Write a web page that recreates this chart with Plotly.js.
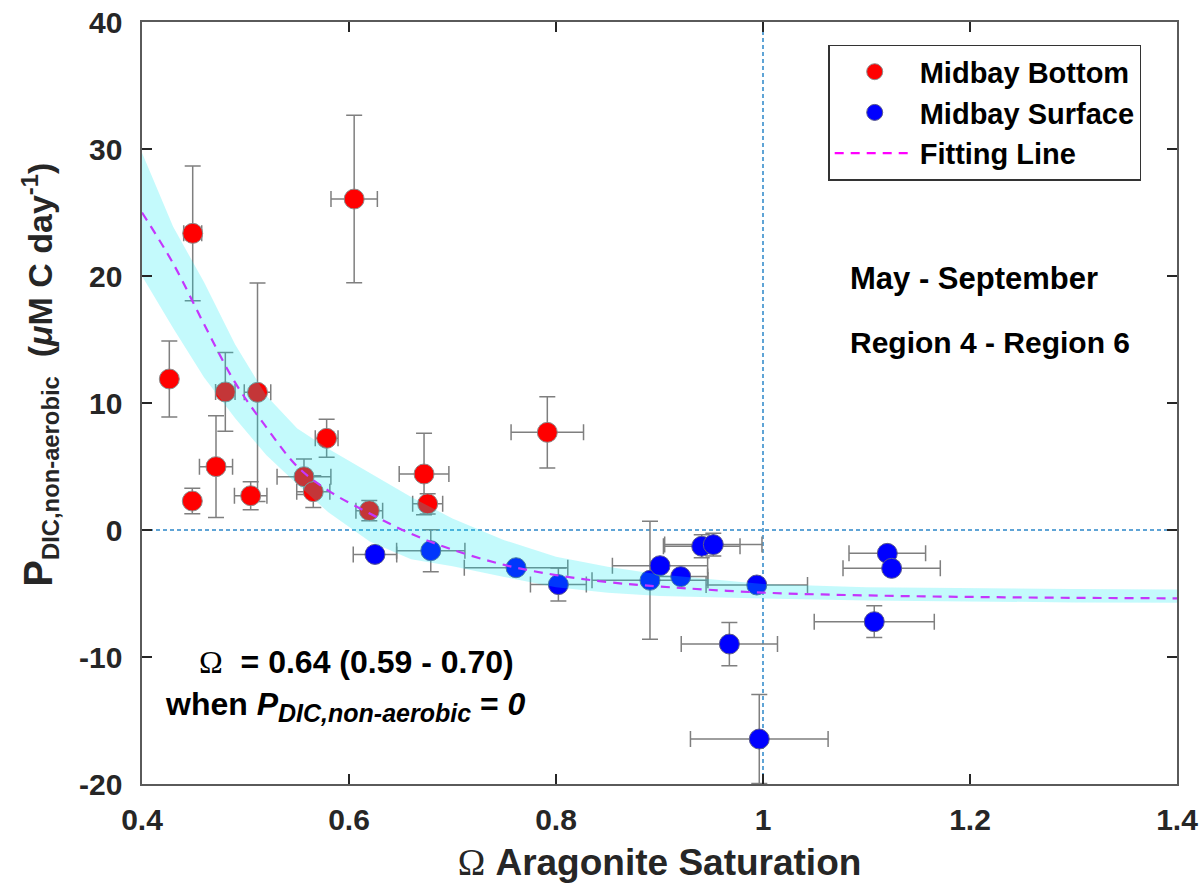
<!DOCTYPE html>
<html>
<head>
<meta charset="utf-8">
<script src="https://cdn.plot.ly/plotly-3.0.1.min.js"></script>
<style>html,body{margin:0;padding:0;background:#fff;}#chart{width:1203px;height:883px;}</style>
</head>
<body>
<div id="chart"></div>
<script>
// Midbay Bottom (red)
const bottomX   = [0.449, 0.605, 0.4264, 0.4805, 0.5116, 0.4486, 0.4715, 0.505, 0.5784, 0.5565, 0.5655, 0.6196, 0.6725, 0.676, 0.7916];
const bottomY   = [23.36, 26.06, 11.89, 10.87, 10.84, 2.28, 4.99, 2.7, 7.22, 4.2, 3.02, 1.52, 4.41, 2.06, 7.69];
const bottomErrY = [5.3, 6.6, 3.0, 3.1, 8.6, 1.0, 4.0, 1.1, 1.5, 1.4, 1.25, 0.8, 3.2, 0.8, 2.8];
const bottomErrX = [0.0087, 0.0224, 0.005, 0.0094, 0.0128, 0.005, 0.016, 0.0157, 0.011, 0.026, 0.016, 0.0129, 0.024, 0.0145, 0.035];

// Midbay Surface (blue)
const surfaceX   = [0.6251, 0.679, 0.7614, 0.8023, 0.8908, 0.9005, 0.9205, 0.9408, 0.952, 0.994, 0.9675, 0.9964, 1.1201, 1.1243, 1.1075];
const surfaceY   = [-1.92, -1.63, -2.97, -4.3, -3.96, -2.81, -3.67, -1.28, -1.15, -4.33, -8.98, -16.46, -1.84, -3.02, -7.22];
const surfaceErrY = [0.3, 1.65, 0.3, 1.3, 4.65, 0.3, 0.3, 0.9, 0.9, 0.3, 1.7, 3.5, 0.3, 0.3, 1.25];
const surfaceErrX = [0.021, 0.033, 0.05, 0.027, 0.056, 0.046, 0.026, 0.037, 0.047, 0.049, 0.0465, 0.0665, 0.037, 0.047, 0.058];

// Fitting line and its confidence band
const fitX     = [0.40, 0.43, 0.46, 0.49, 0.52, 0.55, 0.58, 0.62, 0.66, 0.70, 0.75, 0.80, 0.85, 0.90, 1.00, 1.10, 1.20, 1.30, 1.40];
const fitY     = [25.0, 21.0, 16.2, 11.6, 8.1, 5.0, 3.1, 1.3, -0.3, -1.55, -2.75, -3.55, -4.1, -4.45, -4.93, -5.15, -5.27, -5.34, -5.38];
const bandUpper = [29.7, 23.9, 19.5, 14.6, 10.6, 8.0, 6.4, 4.5, 2.6, 0.9, -0.8, -2.1, -2.9, -3.5, -4.25, -4.5, -4.6, -4.65, -4.68];
const bandLower = [20.0, 15.9, 12.0, 8.8, 5.9, 3.6, 1.4, -0.9, -2.3, -2.85, -3.7, -4.5, -4.95, -5.2, -5.4, -5.55, -5.65, -5.7, -5.72];

// Axis ticks
const xTicks = [0.4, 0.6, 0.8, 1.0, 1.2, 1.4];
const xTickText = ['0.4', '0.6', '0.8', '1', '1.2', '1.4'];
const yTicks = [-20, -10, 0, 10, 20, 30, 40];
const yTickText = ['-20', '-10', '0', '10', '20', '30', '40'];

const errStyle = {color: '#7f7f7f', thickness: 1.5, width: 8};
const FONT = 'Liberation Sans, Arial, sans-serif';

const traces = [
  {
    type: 'scatter', mode: 'markers', name: 'Midbay Bottom',
    x: bottomX, y: bottomY,
    error_y: Object.assign({type: 'data', array: bottomErrY, visible: true}, errStyle),
    error_x: Object.assign({type: 'data', array: bottomErrX, visible: true}, errStyle),
    marker: {color: '#ff0000', size: 20, line: {color: '#8c8c8c', width: 1}},
    legendgroup: 'a'
  },
  {
    type: 'scatter', mode: 'markers', name: 'Midbay Surface',
    x: surfaceX, y: surfaceY,
    error_y: Object.assign({type: 'data', array: surfaceErrY, visible: true}, errStyle),
    error_x: Object.assign({type: 'data', array: surfaceErrX, visible: true}, errStyle),
    marker: {color: '#0000ff', size: 20, line: {color: '#5a5a8c', width: 1}},
    legendgroup: 'b'
  },
  {
    type: 'scatter', mode: 'lines', name: 'Fitting Line',
    x: fitX, y: fitY, line: {color: '#ff00ff', width: 2.2, dash: '9px,7px', shape: 'spline'},
    legendgroup: 'c'
  },
  {
    type: 'scatter', mode: 'lines', showlegend: false, hoverinfo: 'skip',
    x: fitX.concat(fitX.slice().reverse()),
    y: bandUpper.concat(bandLower.slice().reverse()),
    fill: 'toself', fillcolor: 'rgba(0,232,240,0.23)',
    line: {width: 0}
  }
];

const layout = {
  width: 1203, height: 883,
  margin: {l: 142, r: 26, t: 22, b: 99},
  paper_bgcolor: '#ffffff', plot_bgcolor: '#ffffff',
  font: {family: FONT, size: 30, color: '#262626', weight: 'bold'},
  showlegend: true,
  legend: {
    x: 0.663, y: 0.97, xanchor: 'left', yanchor: 'top',
    bgcolor: '#ffffff', bordercolor: '#333333', borderwidth: 1.5,
    font: {family: FONT, size: 29, color: '#000000', weight: 'bold'},
    itemwidth: 80, traceorder: 'grouped', tracegroupgap: 0
  },
  xaxis: {
    range: [0.4, 1.4], tickvals: xTicks, ticktext: xTickText,
    ticks: 'inside', ticklen: 10, tickwidth: 1.3, tickcolor: '#262626',
    showline: true, linecolor: '#5a5a5a', linewidth: 1.6, mirror: 'ticks',
    showgrid: false, zeroline: false, ticklabelstandoff: 8,
    tickfont: {family: FONT, size: 30, color: '#262626', weight: 'bold'},
    title: {text: '<span style="font-family:Liberation Serif;font-weight:normal">Ω</span> Aragonite Saturation',
            font: {family: FONT, size: 37, color: '#262626', weight: 'bold'}, standoff: 14},
    automargin: false
  },
  yaxis: {
    range: [-20, 40], tickvals: yTicks, ticktext: yTickText,
    ticks: 'inside', ticklen: 10, tickwidth: 1.3, tickcolor: '#262626',
    showline: true, linecolor: '#5a5a5a', linewidth: 1.6, mirror: 'ticks',
    showgrid: false, zeroline: false, ticklabelstandoff: 12,
    tickfont: {family: FONT, size: 30, color: '#262626', weight: 'bold'},
    title: {text: '&nbsp;&nbsp;&nbsp;&nbsp;&nbsp;&nbsp;<span style="font-size:40px">P</span><sub>DIC,non-aerobic</sub>  (<i>μ</i>M C day<sup>-1</sup>)',
            font: {family: FONT, size: 34, color: '#262626', weight: 'bold'}, standoff: 16},
    automargin: false
  },
  shapes: [
    {type: 'line', xref: 'paper', x0: 0, x1: 1, yref: 'y', y0: 0, y1: 0,
     line: {color: '#2b86c9', width: 1.5, dash: '4px,3px'}, layer: 'below'},
    {type: 'line', xref: 'x', x0: 1, x1: 1, yref: 'paper', y0: 0, y1: 1,
     line: {color: '#2b86c9', width: 1.5, dash: '4px,3px'}, layer: 'below'}
  ],
  annotations: [
    {x: 1.0821, y: 19.8, xref: 'x', yref: 'y', xanchor: 'left', showarrow: false, text: 'May - September',
     font: {family: FONT, size: 31, color: '#000000', weight: 'bold'}},
    {x: 1.0821, y: 14.8, xref: 'x', yref: 'y', xanchor: 'left', showarrow: false, text: 'Region 4 - Region 6',
     font: {family: FONT, size: 30, color: '#000000', weight: 'bold'}},
    {x: 0.4531, y: -10.4, xref: 'x', yref: 'y', xanchor: 'left', showarrow: false,
     text: '<span style="font-family:Liberation Serif;font-weight:normal">Ω</span>  = 0.64 (0.59 - 0.70)',
     font: {family: FONT, size: 32, color: '#000000', weight: 'bold'}},
    {x: 0.4203, y: -13.9, xref: 'x', yref: 'y', xanchor: 'left', showarrow: false,
     text: 'when <i>P<sub><span style="font-size:25px">DIC,non-aerobic</span></sub></i> = <i>0</i>',
     font: {family: FONT, size: 32, color: '#000000', weight: 'bold'}}
  ]
};

Plotly.newPlot('chart', traces, layout, {displayModeBar: false, staticPlot: true});
</script>
</body>
</html>
